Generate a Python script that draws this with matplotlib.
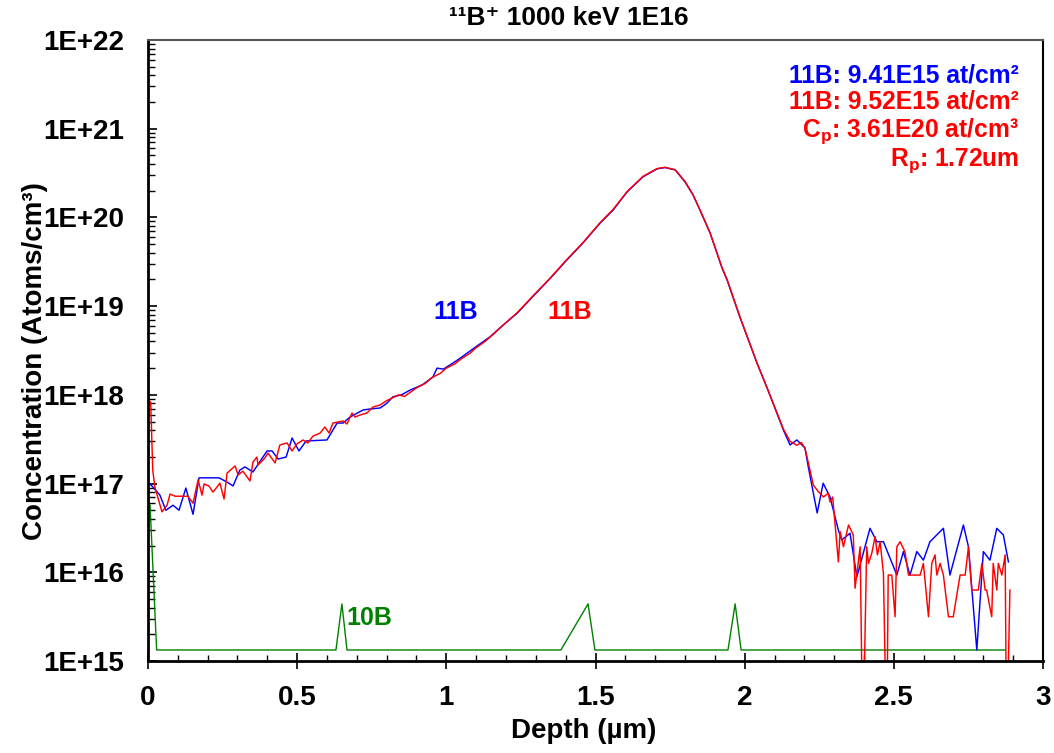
import numpy as np
import matplotlib
matplotlib.use('Agg')
import matplotlib.pyplot as plt
import matplotlib.ticker as ticker

# ------------------------------------------------------------------
# Datos leidos del perfil SIMS
# ------------------------------------------------------------------
blue_depth = [0.005, 0.017, 0.040, 0.060, 0.084, 0.104, 0.127, 0.151, 0.171, 0.208,
              0.238, 0.265, 0.285, 0.308, 0.325, 0.352, 0.399, 0.416, 0.436, 0.463,
              0.483, 0.506, 0.530, 0.600, 0.634, 0.654, 0.677, 0.721, 0.744, 0.778,
              0.800, 0.821, 0.850, 0.878, 0.920, 0.955, 0.969, 0.990, 1.012, 1.040,
              1.069, 1.100, 1.146, 1.190, 1.237, 1.290, 1.348, 1.400, 1.458, 1.515,
              1.559, 1.606, 1.659, 1.706, 1.733, 1.767, 1.800, 1.827, 1.850, 1.884,
              1.924, 1.941, 1.984, 2.041, 2.075, 2.108, 2.130, 2.152, 2.175, 2.202,
              2.212, 2.243, 2.263, 2.286, 2.314, 2.325, 2.353, 2.376, 2.420, 2.443,
              2.465, 2.510, 2.532, 2.554, 2.577, 2.599, 2.621, 2.666, 2.688, 2.733,
              2.750, 2.778, 2.800, 2.822, 2.845, 2.867, 2.884]
blue_conc = [1.0e17, 9.1e16, 7.4e16, 5.0e16, 5.7e16, 5.0e16, 8.9e16, 4.5e16, 1.16e17, 1.16e17,
             1.16e17, 1.04e17, 9.4e16, 1.42e17, 1.54e17, 1.35e17, 2.33e17, 2.33e17, 1.89e17, 1.99e17,
             3.26e17, 2.33e17, 3.02e17, 3.10e17, 4.81e17, 4.81e17, 5.62e17, 6.75e17, 6.92e17, 7.11e17,
             8.0e17, 9.5e17, 1.0e18, 1.13e18, 1.30e18, 1.59e18, 2.0e18, 1.95e18, 2.17e18, 2.5e18,
             2.94e18, 3.5e18, 4.5e18, 6.1e18, 8.3e18, 1.28e19, 2.05e19, 3.2e19, 5.15e19, 8.6e19,
             1.21e20, 1.94e20, 2.86e20, 3.52e20, 3.65e20, 3.43e20, 2.51e20, 1.79e20, 1.21e20, 6.67e19,
             2.69e19, 1.97e19, 7.5e18, 2.29e18, 1.2e18, 6.2e17, 4.0e17, 2.72e17, 3.1e17, 2.52e17,
             1.62e17, 4.66e16, 1.01e17, 7.05e16, 2.99e16, 2.31e16, 2.75e16, 8.9e15, 3.13e16, 2.21e16,
             2.21e16, 9.3e15, 1.71e16, 9.3e15, 1.71e16, 1.37e16, 2.21e16, 3.13e16, 9.3e15, 3.41e16,
             1.94e16, 1.33e15, 1.71e16, 1.37e16, 3.13e16, 2.63e16, 1.31e16]

red_depth = [0.003, 0.009, 0.016, 0.023, 0.047, 0.064, 0.074, 0.091, 0.134, 0.151,
             0.168, 0.181, 0.188, 0.204, 0.218, 0.241, 0.255, 0.265, 0.292, 0.302,
             0.318, 0.342, 0.352, 0.365, 0.369, 0.392, 0.402, 0.426, 0.442, 0.466,
             0.483, 0.499, 0.520, 0.536, 0.553, 0.577, 0.593, 0.607, 0.620, 0.654,
             0.667, 0.684, 0.694, 0.711, 0.734, 0.754, 0.778, 0.800, 0.840, 0.860,
             0.900, 0.930, 0.950, 0.980, 1.000, 1.030, 1.050, 1.080, 1.100, 1.130,
             1.160, 1.190, 1.237, 1.290, 1.348, 1.400, 1.458, 1.515, 1.559, 1.606,
             1.659, 1.706, 1.733, 1.767, 1.800, 1.827, 1.850, 1.884, 1.924, 1.941,
             1.984, 2.041, 2.075, 2.108, 2.130, 2.152, 2.175, 2.190, 2.202, 2.212,
             2.230, 2.247, 2.264, 2.280, 2.286, 2.295, 2.314, 2.320, 2.331, 2.348,
             2.364, 2.370, 2.387, 2.396, 2.409, 2.415, 2.426, 2.437, 2.445, 2.454,
             2.465, 2.476, 2.481, 2.493, 2.504, 2.510, 2.521, 2.537, 2.549, 2.588,
             2.599, 2.616, 2.627, 2.638, 2.644, 2.655, 2.666, 2.683, 2.699, 2.722,
             2.739, 2.750, 2.761, 2.783, 2.795, 2.806, 2.811, 2.828, 2.833, 2.845,
             2.850, 2.862, 2.873, 2.878, 2.889]
red_conc = [8.5e17, 8.3e17, 1.42e17, 9.1e16, 4.8e16, 5.7e16, 7.6e16, 7.2e16, 7.2e16, 6.0e16,
            1.10e17, 7.4e16, 9.9e16, 9.4e16, 8.0e16, 1.01e17, 6.7e16, 1.31e17, 1.58e17, 1.25e17,
            1.38e17, 1.07e17, 1.75e17, 1.99e17, 1.62e17, 1.94e17, 2.21e17, 1.71e17, 2.72e17, 2.87e17,
            2.33e17, 2.79e17, 3.10e17, 2.87e17, 3.43e17, 3.71e17, 4.34e17, 3.71e17, 4.81e17, 5.07e17,
            4.69e17, 6.24e17, 5.62e17, 5.93e17, 6.24e17, 7.29e17, 7.68e17, 8.6e17, 1.0e18, 9.6e17,
            1.2e18, 1.35e18, 1.55e18, 1.75e18, 2.0e18, 2.25e18, 2.55e18, 2.95e18, 3.4e18, 4.0e18,
            4.9e18, 6.1e18, 8.4e18, 1.3e19, 2.07e19, 3.25e19, 5.2e19, 8.7e19, 1.23e20, 1.96e20,
            2.9e20, 3.55e20, 3.67e20, 3.45e20, 2.55e20, 1.8e20, 1.22e20, 6.7e19, 2.72e19, 2.0e19,
            7.6e18, 2.3e18, 1.2e18, 6.3e17, 4.1e17, 3.0e17, 2.7e17, 2.9e17, 2.5e17, 1.8e17,
            9.6e16, 8.1e16, 7.05e16, 7.8e16, 6.2e16, 7.05e16, 1.31e16, 2.87e16, 1.94e16, 3.41e16,
            2.63e16, 6.6e15, 1.94e16, 1.0e14, 1.94e16, 1.26e16, 1.64e16, 2.52e16, 1.57e16, 2.21e16,
            9.7e15, 1.0e14, 9.3e15, 9.3e15, 3.15e15, 1.94e16, 2.21e16, 1.71e16, 9.3e15, 9.3e15,
            1.26e16, 3.15e15, 1.26e16, 1.57e16, 9.3e15, 1.26e16, 9.3e15, 3.15e15, 3.15e15, 9.3e15,
            9.3e15, 1.94e16, 6.3e15, 6.3e15, 1.26e16, 6.3e15, 6.3e15, 3.15e15, 1.26e16, 6.3e15,
            1.26e16, 9.3e15, 1.57e16, 1.0e14, 6.3e15]

green_depth = [0.007, 0.029, 0.630, 0.650, 0.667, 1.384, 1.475, 1.498, 1.944, 1.968, 1.988, 2.873]
green_conc = [5.7e16, 1.33e15, 1.33e15, 4.4e15, 1.33e15, 1.33e15, 4.4e15, 1.33e15, 1.33e15, 4.4e15, 1.33e15, 1.33e15]

info_lines = [u'11B: 9.41E15 at/cm²',
              u'11B: 9.52E15 at/cm²',
              u'C$_\\mathbf{p}$: 3.61E20 at/cm³',
              u'R$_\\mathbf{p}$: 1.72um']
info_colors = ['#0000FF', '#FF0000', '#FF0000', '#FF0000']

# ------------------------------------------------------------------
# Grafica
# ------------------------------------------------------------------
plt.rcParams['font.family'] = ['Liberation Sans', 'DejaVu Sans']
plt.rcParams['font.weight'] = 'bold'
plt.rcParams['mathtext.fontset'] = 'custom'
plt.rcParams['mathtext.rm'] = 'Liberation Sans:bold'
plt.rcParams['mathtext.bf'] = 'Liberation Sans:bold'
plt.rcParams['mathtext.it'] = 'Liberation Sans:bold'

fig = plt.figure(figsize=(10.54, 7.53), dpi=100)
ax = fig.add_subplot()
fig.subplots_adjust(left=0.1404, right=0.9896, bottom=0.1222, top=0.9469)

ax.plot(green_depth, green_conc, color='#008000', lw=1.0)
ax.plot(blue_depth, blue_conc, color='#0000FF', lw=1.05)
ax.plot(red_depth, red_conc, color='#FF0000', lw=1.05)

ax.set_yscale('log')
ax.set_xlim(0, 3)
ax.set_ylim(1e15, 1e22)

ax.xaxis.set_major_locator(ticker.MultipleLocator(0.5))
ax.xaxis.set_minor_locator(ticker.MultipleLocator(0.1))
ax.xaxis.set_major_formatter(ticker.FuncFormatter(lambda v, p: '%g' % v))
ax.yaxis.set_major_locator(ticker.LogLocator(base=10, numticks=20))
ax.yaxis.set_minor_locator(ticker.LogLocator(base=10, subs=np.arange(2, 10), numticks=20))
ax.yaxis.set_minor_formatter(ticker.NullFormatter())
ax.yaxis.set_major_formatter(ticker.FuncFormatter(lambda v, p: '1E+%d' % round(np.log10(v))))

ax.tick_params(axis='x', which='major', direction='inout', length=11, width=1.2,
               labelsize=20, pad=12, top=False)
ax.tick_params(axis='x', which='minor', direction='in', length=4.5, width=1.0, top=False)
ax.tick_params(axis='y', which='major', direction='in', length=6.5, width=1.2,
               labelsize=20, pad=17, right=False)
ax.tick_params(axis='y', which='minor', direction='in', length=5, width=1.0, right=False)

ax.spines['left'].set_linewidth(2)
ax.spines['bottom'].set_linewidth(2)
ax.spines['top'].set_linewidth(1.5)
ax.spines['top'].set_color('#555555')
ax.spines['right'].set_linewidth(1.5)

ax.set_xlabel(u'Depth (µm)', fontsize=20, fontweight='bold')
ax.set_ylabel(u'Concentration (Atoms/cm³)', fontsize=20, fontweight='bold')
ax.xaxis.set_label_coords(0.487, -0.092)
ax.yaxis.set_label_coords(-0.112, 0.483)

fig.text(0.54, 0.976, u'¹¹B⁺ 1000 keV 1E16', fontsize=19,
         fontweight='bold', ha='center', va='center')

ax.text(1.03, 8.6e18, '11B', color='#0000FF', fontsize=18, fontweight='bold', ha='center', va='center')
ax.text(1.415, 8.6e18, '11B', color='#FF0000', fontsize=18, fontweight='bold', ha='center', va='center')
ax.text(0.741, 3.05e15, '10B', color='#008000', fontsize=18, fontweight='bold', ha='center', va='center')

ys = [0.931, 0.890, 0.844, 0.797]
for txt, col, yy in zip(info_lines, info_colors, ys):
    ax.text(0.973, yy, txt, color=col, fontsize=17.7, fontweight='bold',
            ha='right', va='baseline', transform=ax.transAxes)

plt.savefig('out.png', dpi=100)
